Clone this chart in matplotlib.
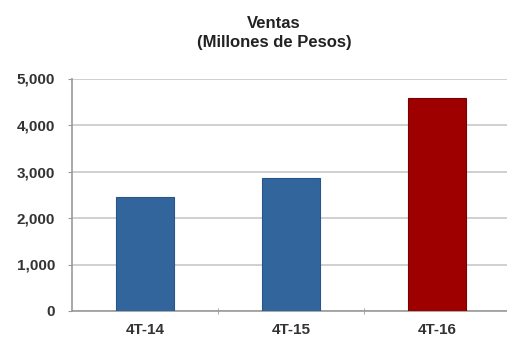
import matplotlib.pyplot as plt
import matplotlib.ticker as mticker

# data
categorias = ['4T-14', '4T-15', '4T-16']
ventas = [2450, 2860, 4580]
colores = ['#31659C', '#31659C', '#9E0000']
bordes = ['#28558A', '#28558A', '#7A0000']

W, H = 507, 337
fig = plt.figure(figsize=(W / 100, H / 100), dpi=100)
plt.rcParams['font.family'] = ['Liberation Sans', 'DejaVu Sans']

# plot area runs a little past the right edge, as in the source
ax = fig.add_axes([72 / W, 26 / H, 438 / W, 232.5 / H])

x = range(len(categorias))
ax.bar(x, ventas, width=0.4, color=colores, edgecolor=bordes, linewidth=0.8, zorder=3)

ax.set_xlim(-0.5, len(categorias) - 0.5)
ax.set_ylim(0, 5000)
ax.yaxis.set_major_locator(mticker.MultipleLocator(1000))
ax.yaxis.set_major_formatter(mticker.FuncFormatter(lambda v, p: f'{int(v):,}'))
ax.grid(axis='y', color='#c8c8c8', linewidth=1.2, zorder=0)

ax.set_xticks(list(x))
ax.set_xticklabels(categorias, fontsize=11, fontweight='bold', color='#333333')
ax.set_xticks([0.5, 1.5], minor=True)
ax.tick_params(axis='x', which='major', length=0, pad=9)
ax.tick_params(axis='x', which='minor', length=4, direction='inout', color='#999999')
ax.tick_params(axis='y', length=3, color='#999999', labelsize=11, labelcolor='#333333', pad=9)
for t in ax.get_yticklabels():
    t.set_fontweight('bold')

for s in ['top', 'right']:
    ax.spines[s].set_visible(False)
for s in ['left', 'bottom']:
    ax.spines[s].set_color('#999999')
    ax.spines[s].set_linewidth(1.2)

fig.text(274 / W, 1 - 33 / H, 'Ventas\n(Millones de Pesos)', ha='center', va='center',
         fontsize=12, fontweight='bold', color='#222222', linespacing=1.25)

fig.savefig('out.png', dpi=100)
